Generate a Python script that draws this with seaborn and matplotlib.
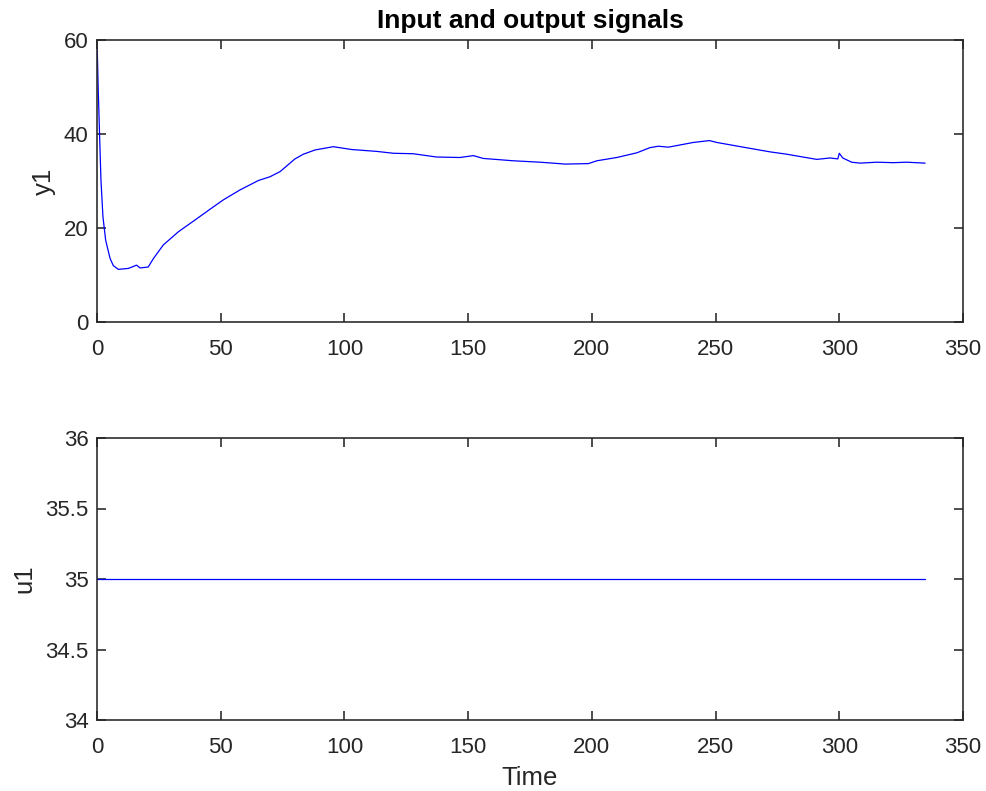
import matplotlib
matplotlib.use("Agg")
import matplotlib.pyplot as plt
import seaborn as sns
import pandas as pd

# Output signal y1, read at the knots of the recorded response
time_y = [0.1, 0.5, 1.1, 1.6, 2.4, 3.5, 5.3, 6.6, 8.6, 12.7, 16.0, 17.4, 20.7,
          22.8, 26.8, 32.9, 39.6, 45.7, 51.1, 57.8, 65.2, 69.9, 74.0, 80.0,
          83.4, 88.1, 95.5, 102.9, 113.0, 119.8, 127.8, 137.3, 146.7, 152.1,
          156.1, 168.3, 179.1, 189.2, 198.6, 202.0, 210.1, 218.2, 223.5,
          226.9, 230.9, 241.0, 247.5, 250.5, 261.2, 272.0, 278.8, 284.2,
          290.9, 296.3, 299.4, 300.0, 301.4, 305.0, 308.4, 315.1, 321.8,
          327.2, 334.7]
y1 = [57.9, 49.4, 38.7, 30.2, 22.4, 17.4, 13.5, 12.0, 11.2, 11.4, 12.1, 11.5,
      11.7, 13.5, 16.4, 19.2, 21.7, 24.0, 26.0, 28.1, 30.1, 30.9, 32.0, 34.7,
      35.7, 36.6, 37.3, 36.7, 36.3, 35.9, 35.8, 35.1, 35.0, 35.4, 34.8, 34.3,
      34.0, 33.6, 33.7, 34.3, 35.0, 36.0, 37.1, 37.4, 37.2, 38.2, 38.6, 38.2,
      37.2, 36.2, 35.7, 35.2, 34.6, 34.9, 34.7, 35.9, 34.9, 34.0, 33.8, 34.0,
      33.9, 34.0, 33.8]

# Input signal u1, held constant over the experiment
time_u = [0, 334.7]
u1 = [35.0, 35.0]

sns.set_style("ticks")
plt.rcParams["font.family"] = ["Liberation Sans", "DejaVu Sans"]
axis_color = "#262626"
plt.rcParams.update({
    "axes.edgecolor": axis_color,
    "axes.linewidth": 1.15,
    "xtick.color": axis_color,
    "ytick.color": axis_color,
    "xtick.direction": "in",
    "ytick.direction": "in",
    "xtick.major.size": 6.5,
    "ytick.major.size": 6.5,
    "xtick.major.width": 1.15,
    "ytick.major.width": 1.15,
    "xtick.top": True,
    "ytick.right": True,
    "xtick.labelsize": 16,
    "ytick.labelsize": 16,
})

fig = plt.figure(figsize=(9.87, 7.91), dpi=100)
W, H = 987, 791
ax1 = fig.add_axes([97 / W, 1 - 322 / H, (963 - 97) / W, (322 - 40) / H])
ax2 = fig.add_axes([97 / W, 1 - 720 / H, (963 - 97) / W, (720 - 438) / H])

df_y = pd.DataFrame({"Time": time_y, "y1": y1})
df_u = pd.DataFrame({"Time": time_u, "u1": u1})

sns.lineplot(data=df_y, x="Time", y="y1", ax=ax1, color="#0000ff",
             linewidth=0.9, sort=False, estimator=None)
sns.lineplot(data=df_u, x="Time", y="u1", ax=ax2, color="#0000ff",
             linewidth=0.9, sort=False, estimator=None)

ax1.set_xlim(0, 350)
ax1.set_ylim(0, 60)
ax1.set_yticks([0, 20, 40, 60])
ax1.set_xticks(range(0, 351, 50))
ax1.set_xlabel("")
ax1.set_ylabel("y1", fontsize=18.5, color=axis_color, labelpad=6)
ax1.set_title("Input and output signals", fontsize=19, fontweight="bold",
              color="black", pad=8.5)

ax2.set_xlim(0, 350)
ax2.set_ylim(34, 36)
ax2.set_yticks([34, 34.5, 35, 35.5, 36])
ax2.set_yticklabels(["34", "34.5", "35", "35.5", "36"])
ax2.set_xticks(range(0, 351, 50))
ax2.set_xlabel("Time", fontsize=18.5, color=axis_color, labelpad=6)
ax2.set_ylabel("u1", fontsize=18.5, color=axis_color, labelpad=6.5)

for ax in (ax1, ax2):
    for side in ("top", "right", "left", "bottom"):
        ax.spines[side].set_visible(True)
    ax.tick_params(axis="x", pad=12)
    ax.tick_params(axis="y", pad=6)

fig.savefig("out.png", dpi=100)
